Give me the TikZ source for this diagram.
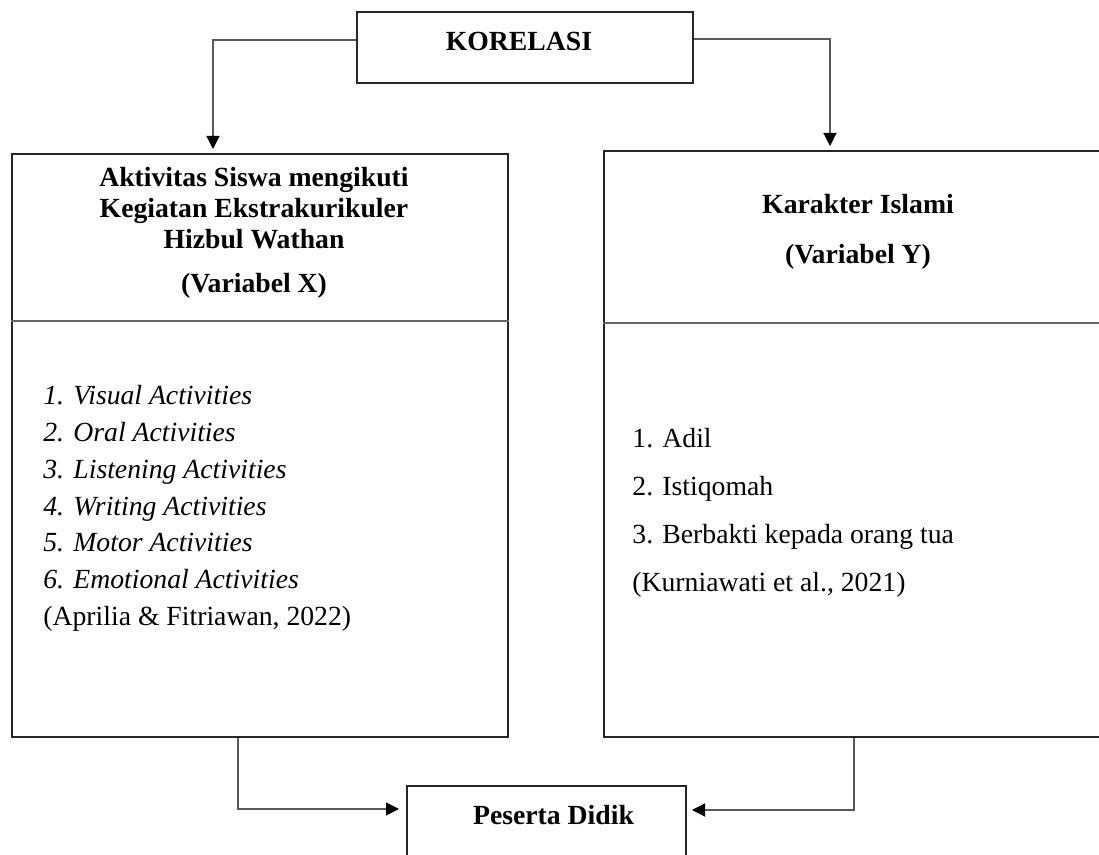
\documentclass[tikz,border=0pt]{standalone}
\usepackage{fontspec}
\setmainfont{Liberation Serif}
\usetikzlibrary{arrows.meta}

\tikzset{
  box/.style={draw=black!85, line width=1pt, inner sep=0pt},
  conn/.style={draw=black!65, line width=0.6pt, -{Triangle[length=6.5pt,width=6.5pt,color=black]}},
  divline/.style={draw=black!60, line width=0.6pt},
  txt/.style={inner sep=0pt, font=\fontsize{13.85}{16}\selectfont},
  head/.style={txt, font=\fontsize{13.85}{16}\selectfont\bfseries},
  item/.style={txt, font=\fontsize{13.85}{16}\selectfont\itshape},
}

\begin{document}
\begin{tikzpicture}[x=0.5pt,y=-0.5pt]
  \useasboundingbox (0,0) rectangle (1099,855);

    % Heights of the lines under the two variable titles
    \def\ydivx{321}   % left box (X)
    \def\ydivy{323}   % right box (Y)

    % -- Boxes --
    \node[box, minimum width=168pt, minimum height=35.5pt] (kor) at (525,47.5) {};
    \node[box, minimum width=248pt, minimum height=291.5pt] (xbox) at (260,445.5) {};
    \node[box, minimum width=254pt, minimum height=293pt] (ybox) at (858,444) {};
    \node[box, minimum width=139.5pt, minimum height=57pt] (pes) at (546.5,843) {};

    % -- Lines between title and content --
    \draw[divline] (xbox.west |- 0,\ydivx) -- (xbox.east |- 0,\ydivx);
    \draw[divline] (ybox.west |- 0,\ydivy) -- (ybox.east |- 0,\ydivy);

    % -- Titles of the top and bottom boxes --
    \path
      (519,51) node[head, anchor=base] (kortext) {KORELASI}
      (553.5,825) node[head, anchor=base] (pestext) {Peserta Didik};

    % -- Title of variable X --
    \path
      (254,187) node[head, anchor=base] (xt1) {Aktivitas Siswa mengikuti}
      (254,218) node[head, anchor=base] (xt2) {Kegiatan Ekstrakurikuler}
      (254,249) node[head, anchor=base] (xt3) {Hizbul Wathan}
      (254,293) node[head, anchor=base] (xt4) {(Variabel X)};

    % -- Title of variable Y --
    \path
      (858,214) node[head, anchor=base] (yt1) {Karakter Islami}
      (858,264) node[head, anchor=base] (yt2) {(Variabel Y)};

    % -- Indicators of X --
    \path
      (43,405)   node[item, anchor=base west] (x1) {1. Visual Activities}
      (43,441.7) node[item, anchor=base west] (x2) {2. Oral Activities}
      (43,478.4) node[item, anchor=base west] (x3) {3. Listening Activities}
      (43,515.1) node[item, anchor=base west] (x4) {4. Writing Activities}
      (43,551.8) node[item, anchor=base west] (x5) {5. Motor Activities}
      (43,588.5) node[item, anchor=base west] (x6) {6. Emotional Activities}
      (43,625.2) node[txt, anchor=base west] (xref) {(Aprilia \& Fitriawan, 2022)};

    % -- Indicators of Y --
    \path
      (632,448) node[txt, anchor=base west] (y1) {1. Adil}
      (632,496) node[txt, anchor=base west] (y2) {2. Istiqomah}
      (632,544) node[txt, anchor=base west] (y3) {3. Berbakti kepada orang tua}
      (632,592) node[txt, anchor=base west] (yref) {(Kurniawati et al., 2021)};

    % -- Connectors --
    \draw[conn, shorten >=2pt] (kor.west |- 0,40) -| (213,0 |- xbox.north);
    \draw[conn, shorten >=2pt] (kor.east |- 0,39) -| (830,0 |- ybox.north);
    \draw[conn, shorten >=3.5pt] (238,0 |- xbox.south) |- (pes.west |- 0,809);
    \draw[conn, shorten >=2.5pt] (854,0 |- ybox.south) |- (pes.east |- 0,810);

\end{tikzpicture}
\end{document}
